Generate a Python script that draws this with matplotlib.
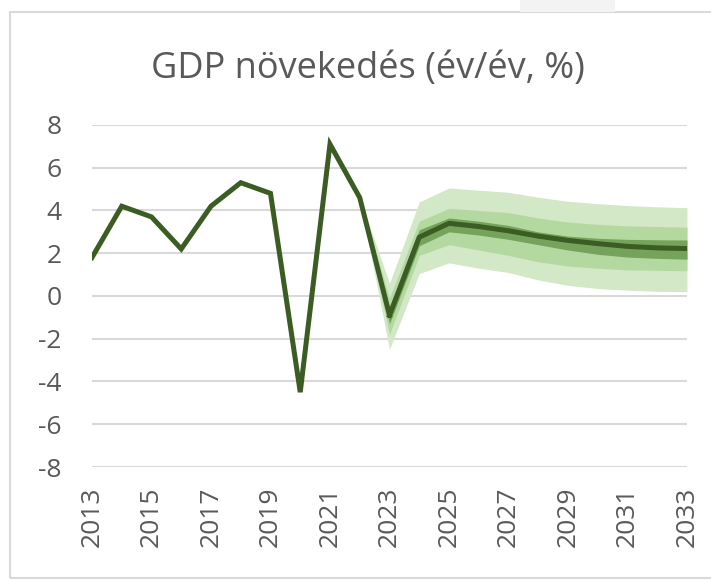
import numpy as np
import matplotlib.pyplot as plt
from matplotlib.patches import Rectangle

plt.rcParams['font.family'] = ['Open Sans', 'DejaVu Sans']
plt.rcParams['axes.unicode_minus'] = False

# historical GDP growth (y/y, %)
years = [2013, 2014, 2015, 2016, 2017, 2018, 2019, 2020, 2021, 2022, 2023]
gdp = [1.8, 4.2, 3.7, 2.2, 4.2, 5.3, 4.8, -4.5, 7.1, 4.6, -0.9]

# forecast central path and fan bands
fc_years = [2022, 2023, 2024, 2025, 2026, 2027, 2028, 2029, 2030, 2031, 2032, 2033]
fc_center = [4.6, -0.9, 2.75, 3.4, 3.25, 3.05, 2.8, 2.6, 2.45, 2.32, 2.25, 2.22]
outer_hi = [4.6, 0.6, 4.4, 5.05, 4.95, 4.85, 4.62, 4.43, 4.32, 4.23, 4.17, 4.13]
outer_lo = [4.6, -2.5, 1.05, 1.55, 1.3, 1.1, 0.75, 0.5, 0.35, 0.27, 0.22, 0.2]
mid_hi = [4.6, -0.1, 3.5, 4.1, 4.0, 3.9, 3.65, 3.46, 3.35, 3.28, 3.25, 3.22]
mid_lo = [4.6, -1.8, 1.9, 2.4, 2.15, 1.9, 1.6, 1.4, 1.3, 1.22, 1.2, 1.18]
inner_hi = [4.6, -0.6, 3.1, 3.65, 3.5, 3.3, 3.0, 2.8, 2.7, 2.65, 2.63, 2.62]
inner_lo = [4.6, -1.3, 2.35, 3.0, 2.85, 2.65, 2.4, 2.15, 1.95, 1.82, 1.76, 1.72]

fig = plt.figure(figsize=(7.11, 5.81), dpi=100)
ax = fig.add_axes([0.1294, 0.1962, 0.8368, 0.5887])

ax.fill_between(fc_years, outer_lo, outer_hi, color='#d2e8c6', lw=0)
ax.fill_between(fc_years, mid_lo, mid_hi, color='#b4d9a0', lw=0)
ax.fill_between(fc_years, inner_lo, inner_hi, color='#76a35b', lw=0)
ax.plot(years, gdp, color='#3b5c22', lw=3.6, solid_joinstyle='miter', zorder=3)
ax.plot(fc_years[1:], fc_center[1:], color='#3b5c22', lw=3.6, zorder=3)

ax.set_xlim(2013, 2033)
ax.set_ylim(-8, 8)
ax.set_yticks(range(-8, 9, 2))
ax.set_yticklabels([str(v) for v in range(-8, 9, 2)])
ax.set_xticks(range(2013, 2034, 2))
ax.set_xticklabels([str(y) for y in range(2013, 2034, 2)], rotation=90)
ax.grid(axis='y', color='#d9d9d9', lw=1.5)
ax.set_axisbelow(True)
for s in ax.spines.values():
    s.set_visible(False)
ax.tick_params(length=0, labelsize=19, colors='#595959')
ax.tick_params(axis='y', pad=22)
ax.tick_params(axis='x', pad=14)

fig.text(0.5176, 0.882, 'GDP növekedés (év/év, %)', ha='center', va='center',
         fontsize=26, color='#595959')

fig.patches.append(Rectangle((10 / 711, 3 / 581), 1.0, 566 / 581, transform=fig.transFigure,
                             fill=False, edgecolor='#d9d9d9', lw=1.5))
fig.patches.append(Rectangle((520 / 711, 569 / 581), 95 / 711, 12 / 581, transform=fig.transFigure,
                             facecolor='#f3f3f3', lw=0))

fig.savefig('out.png', dpi=100)
